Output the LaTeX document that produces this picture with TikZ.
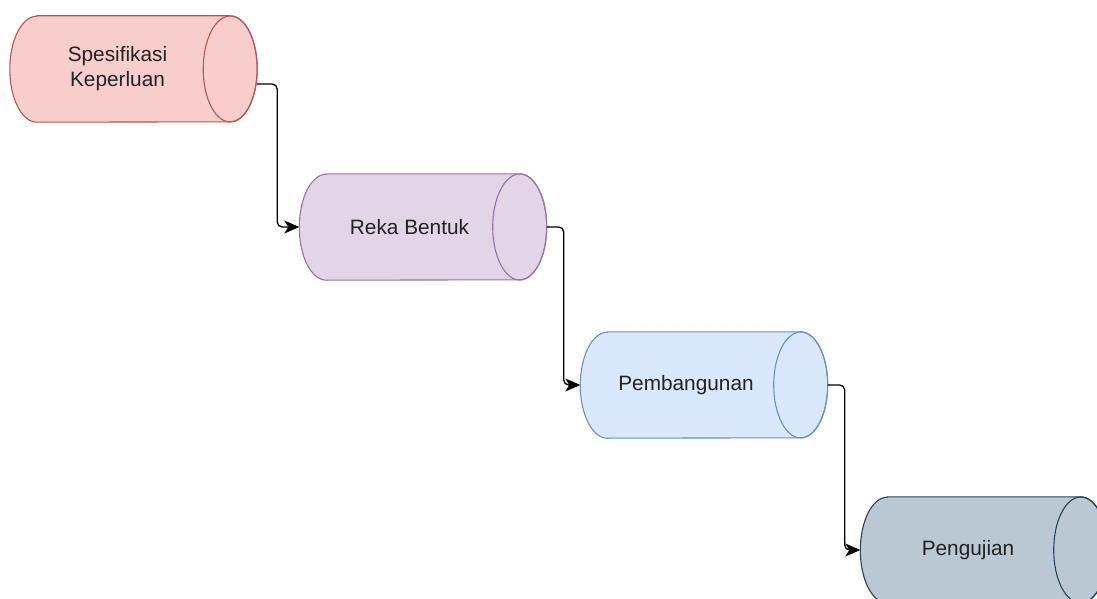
\documentclass[tikz,border=0pt]{standalone}
\usepackage{fontspec}
\setmainfont{Liberation Sans}
\usetikzlibrary{arrows.meta}
\definecolor{redfill}{HTML}{F8CECC}\definecolor{redline}{HTML}{B85450}
\definecolor{purfill}{HTML}{E1D5E7}\definecolor{purline}{HTML}{9673A6}
\definecolor{blufill}{HTML}{DAE8FC}\definecolor{bluline}{HTML}{6C8EBF}
\definecolor{gryfill}{HTML}{BAC8D3}\definecolor{gryline}{HTML}{23445D}
\definecolor{txt}{HTML}{222222}
\tikzset{
  cylbox/.style={draw=none, minimum width=247pt, minimum height=106pt, inner sep=0pt},
  lbl/.style={font=\fontsize{20.8pt}{25pt}\selectfont, text=txt, align=center},
  conn/.style={line width=1.3pt, black, rounded corners=5pt, -{Stealth[length=15pt,width=13pt,inset=4pt]}}
}
\newcommand{\drawcyl}[3]{%
  \draw[fill=#2, draw=#3, line width=1.1pt]
    ([xshift=27pt]#1.north west) -- ([xshift=-27pt]#1.north east)
    arc[start angle=90, end angle=-90, x radius=27pt, y radius=53pt]
    -- ([xshift=27pt]#1.south west)
    arc[start angle=270, end angle=90, x radius=27pt, y radius=53pt] -- cycle;
  \draw[draw=#3, line width=1.1pt] ([xshift=-27pt]#1.east) ellipse[x radius=27pt, y radius=53pt];
}
\begin{document}
\begin{tikzpicture}[x=1pt,y=1pt]
\useasboundingbox (0,0) rectangle (1097,-599);
\clip (0,0) rectangle (1097,-599);
\fill[white] (0,0) rectangle (1097,-599);
\node[cylbox] (a) at (133.5,-69) {};
\node[cylbox] (b) at (423,-227) {};
\node[cylbox] (c) at (704,-385) {};
\node[cylbox] (d) at (984,-550) {};
\drawcyl{a}{redfill}{redline}
\drawcyl{b}{purfill}{purline}
\drawcyl{c}{blufill}{bluline}
\drawcyl{d}{gryfill}{gryline}
\node[lbl] (ta) at ([xshift=-16pt]a.center) {Spesifikasi\\Keperluan};
\node[lbl] (tb) at ([xshift=-13.5pt]b.center) {Reka Bentuk};
\node[lbl] (tc) at ([xshift=-18pt]c.center) {Pembangunan};
\node[lbl] (td) at ([xshift=-16pt]d.center) {Pengujian};
\coordinate (aout) at ([yshift=-15pt]a.east);
\draw[conn] (aout) -- ++(20,0) |- (b.west);
\draw[conn] (b.east) -- ++(17,0) |- (c.west);
\draw[conn] (c.east) -- ++(17,0) |- (d.west);
\end{tikzpicture}
\end{document}
